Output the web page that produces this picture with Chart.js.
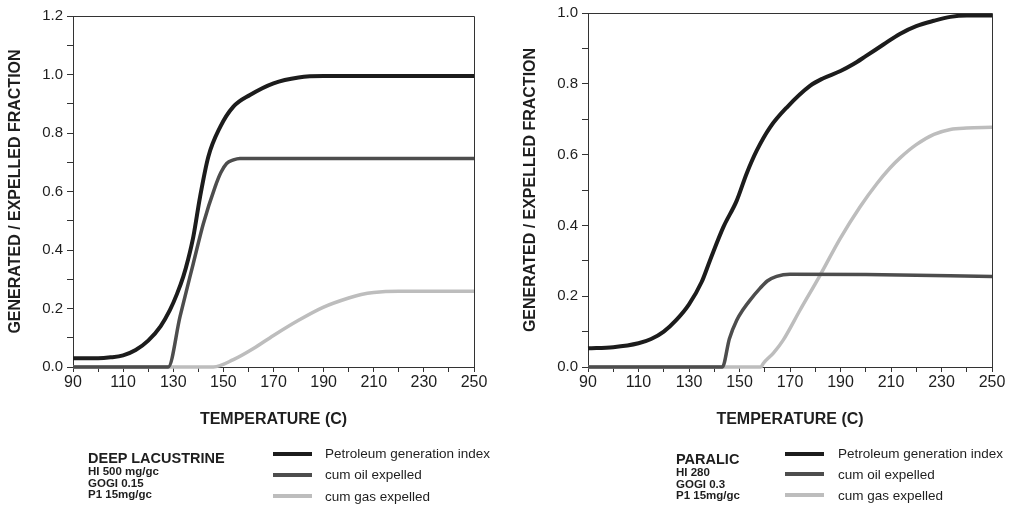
<!DOCTYPE html>
<html>
<head>
<meta charset="utf-8">
<script src="https://cdn.jsdelivr.net/npm/chart.js@4.4.1/dist/chart.umd.min.js"></script>
<style>
  body { margin: 0; background: #fff; }
  #wrap { position: relative; width: 1012px; height: 507px; overflow: hidden; font-family: "Liberation Sans", Arial, sans-serif; color: #1e1e1e; }
  canvas { position: absolute; top: 0; }
  .info { position: absolute; font-weight: bold; font-size: 11.5px; line-height: 11.7px; }
  .info .name { font-size: 14.5px; line-height: 16px; }
  .swatch { position: absolute; width: 39px; height: 4px; }
  .lbl { position: absolute; font-size: 13.5px; line-height: 14px; }
</style>
</head>
<body>
<div id="wrap">
  <canvas id="lacChart" width="500" height="507" style="left:0"></canvas>
  <canvas id="parChart" width="512" height="507" style="left:500px"></canvas>

  <div class="info" style="left:88px;top:450px"><div class="name">DEEP LACUSTRINE</div>HI 500 mg/gc<br>GOGI 0.15<br>P1 15mg/gc</div>
  <div class="swatch" style="left:273px;top:452px;background:#1c1c1c"></div>
  <div class="swatch" style="left:273px;top:473px;background:#4d4d4d"></div>
  <div class="swatch" style="left:273px;top:494px;background:#bdbdbd"></div>
  <div class="lbl" style="left:325px;top:447px">Petroleum generation index</div>
  <div class="lbl" style="left:325px;top:468px">cum oil expelled</div>
  <div class="lbl" style="left:325px;top:490px">cum gas expelled</div>

  <div class="info" style="left:676px;top:451px"><div class="name">PARALIC</div>HI 280<br>GOGI 0.3<br>P1 15mg/gc</div>
  <div class="swatch" style="left:785px;top:452px;background:#1c1c1c"></div>
  <div class="swatch" style="left:785px;top:472px;background:#4d4d4d"></div>
  <div class="swatch" style="left:785px;top:493px;background:#bdbdbd"></div>
  <div class="lbl" style="left:838px;top:447px">Petroleum generation index</div>
  <div class="lbl" style="left:838px;top:468px">cum oil expelled</div>
  <div class="lbl" style="left:838px;top:489px">cum gas expelled</div>
</div>

<script>
// deep lacustrine
const lacGenT = [90, 100, 105, 110, 115, 120, 125, 128.7, 131.5, 134, 136, 138, 140.7, 144, 148.7, 154, 160.6, 170, 180, 190, 210, 250];
const lacGenV = [0.03, 0.03, 0.033, 0.04, 0.058, 0.09, 0.14, 0.195, 0.25, 0.309, 0.37, 0.445, 0.582, 0.719, 0.82, 0.89, 0.93, 0.97, 0.99, 0.995, 0.995, 0.995];
const lacOilT = [90, 128, 132.7, 138, 142, 146.7, 149, 151.3, 154, 156.6, 250];
const lacOilV = [0, 0, 0.172, 0.354, 0.49, 0.616, 0.665, 0.696, 0.708, 0.713, 0.713];
const lacGasT = [90, 146, 154, 162, 170, 180, 190, 200, 205, 210, 220, 250];
const lacGasV = [0, 0, 0.025, 0.063, 0.108, 0.16, 0.205, 0.236, 0.248, 0.255, 0.259, 0.259];

// paralic
const parGenT = [90, 100, 110, 115, 120, 125, 130, 135, 138.3, 143.6, 148.9, 152.8, 156.8, 162.1, 168.7, 177.9, 183, 190, 195, 200, 207, 213.5, 220, 227, 233.5, 240, 250];
const parGenV = [0.053, 0.056, 0.067, 0.079, 0.1, 0.133, 0.177, 0.24, 0.301, 0.395, 0.47, 0.546, 0.611, 0.677, 0.733, 0.794, 0.815, 0.836, 0.855, 0.878, 0.911, 0.941, 0.963, 0.978, 0.989, 0.993, 0.993];
const parOilT = [90, 143.2, 146, 148.9, 151.5, 154.2, 158.1, 161, 164.7, 170, 200, 250];
const parOilV = [0, 0, 0.08, 0.132, 0.163, 0.189, 0.222, 0.243, 0.256, 0.262, 0.261, 0.256];
const parGasT = [90, 158.5, 159.4, 163.5, 167.3, 174, 181.9, 189.8, 197.7, 204.3, 209.6, 213.5, 220, 227, 233.5, 240, 250];
const parGasV = [0, 0, 0.01, 0.04, 0.076, 0.161, 0.259, 0.362, 0.452, 0.517, 0.562, 0.59, 0.628, 0.657, 0.671, 0.675, 0.677];

const seriesNames = ["Petroleum generation index", "cum oil expelled", "cum gas expelled"];
const seriesColors = ["#1c1c1c", "#4d4d4d", "#bdbdbd"];
const FONT = "'Liberation Sans', Arial, sans-serif";
const INK = "#1e1e1e";

function toPoints(ts, vs) {
    return ts.map((t, i) => ({ x: t, y: vs[i] }));
}

// top and right edges of the plot box
const boxPlugin = {
    id: 'box',
    afterDraw(chart) {
        const a = chart.chartArea;
        const ctx = chart.ctx;
        ctx.save();
        ctx.strokeStyle = '#333';
        ctx.lineWidth = 1;
        ctx.beginPath();
        ctx.moveTo(a.left, Math.round(a.top) + 0.5);
        ctx.lineTo(Math.round(a.right) + 0.5, Math.round(a.top) + 0.5);
        ctx.lineTo(Math.round(a.right) + 0.5, a.bottom);
        ctx.stroke();
        ctx.restore();
    }
};

function makeChart(id, sets, yMax, pad) {
    const ctx = document.getElementById(id).getContext('2d');
    return new Chart(ctx, {
        type: 'line',
        data: {
            datasets: sets.map((s, i) => ({
                label: seriesNames[i],
                data: toPoints(s[0], s[1]),
                borderColor: seriesColors[i],
                borderWidth: i === 0 ? 4 : 3.5,
                pointRadius: 0,
                cubicInterpolationMode: 'monotone',
                fill: false,
                clip: 4
            }))
        },
        plugins: [boxPlugin],
        options: {
            responsive: false,
            animation: false,
            layout: { padding: pad },
            plugins: { legend: { display: false }, tooltip: { enabled: false } },
            scales: {
                x: {
                    type: 'linear',
                    min: 90,
                    max: 250,
                    afterFit: s => { s.height = 70; },
                    ticks: {
                        stepSize: 10,
                        autoSkip: false,
                        maxRotation: 0,
                        padding: 1,
                        color: INK,
                        font: { family: FONT, size: 16 },
                        callback: v => ((v - 90) % 20 === 0 ? String(v) : '')
                    },
                    grid: { drawOnChartArea: false, drawTicks: true, tickLength: 5, color: '#333' },
                    border: { display: true, color: '#333', width: 1 },
                    title: {
                        display: true,
                        text: 'TEMPERATURE (C)',
                        color: INK,
                        font: { family: FONT, size: 16, weight: 'bold' },
                        padding: { top: 0, bottom: 8 }
                    }
                },
                y: {
                    min: 0,
                    max: yMax,
                    afterFit: s => { s.width = 73; },
                    ticks: {
                        stepSize: 0.1,
                        autoSkip: false,
                        padding: 4,
                        color: INK,
                        font: { family: FONT, size: 15 },
                        callback: v => (Math.round(v * 10) % 2 === 0 ? v.toFixed(1) : '')
                    },
                    grid: { drawOnChartArea: false, drawTicks: true, tickLength: 6, color: '#333' },
                    border: { display: true, color: '#333', width: 1 },
                    title: {
                        display: true,
                        text: 'GENERATED / EXPELLED FRACTION',
                        color: INK,
                        font: { family: FONT, size: 16, weight: 'bold' },
                        padding: { top: 6, bottom: 0 }
                    }
                }
            }
        }
    });
}

makeChart('lacChart',
    [[lacGenT, lacGenV], [lacOilT, lacOilV], [lacGasT, lacGasV]],
    1.2, { left: 0, right: 26, top: 16, bottom: 70 });

makeChart('parChart',
    [[parGenT, parGenV], [parOilT, parOilV], [parGasT, parGasV]],
    1.0, { left: 15, right: 20, top: 12, bottom: 70 });
</script>
</body>
</html>
